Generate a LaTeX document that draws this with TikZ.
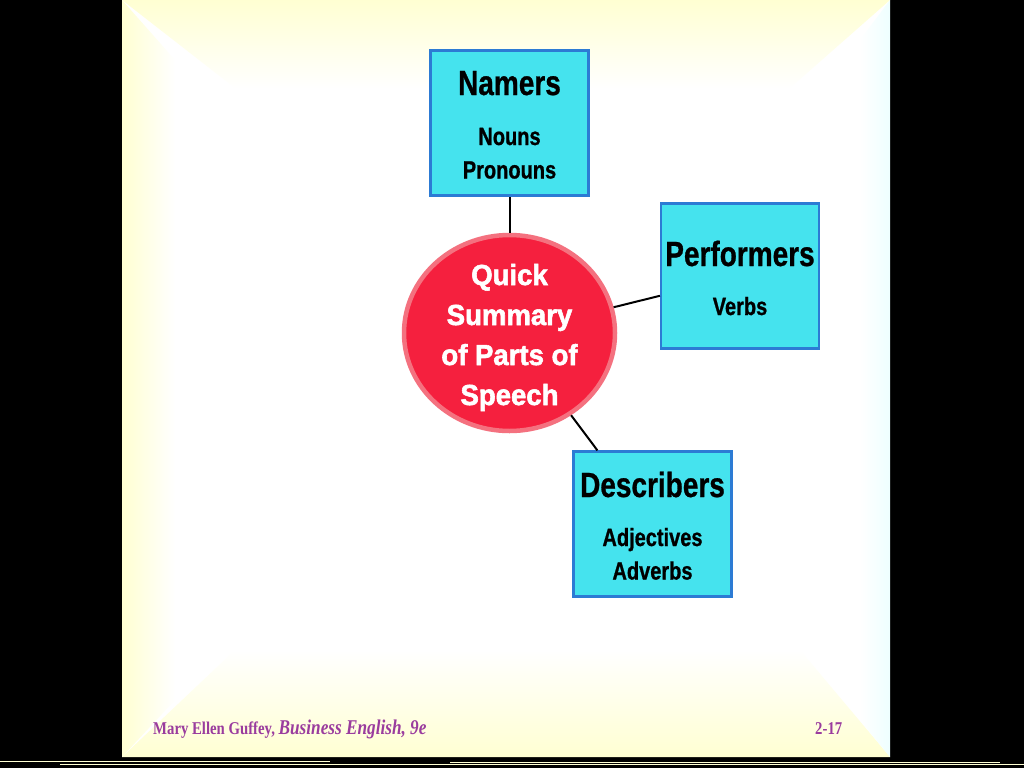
\documentclass[tikz,border=0pt]{standalone}
\usepackage{fontspec}
\setmainfont{Liberation Sans}
\newfontfamily\narrowsans[FakeStretch=0.80, BoldFeatures={FakeBold=0.8}]{Liberation Sans}
\newfontfamily\wideSans[FakeStretch=0.95, BoldFeatures={FakeBold=2}]{Liberation Sans}
\newfontfamily\footserif[FakeStretch=0.82]{Liberation Serif}
\usetikzlibrary{shapes.geometric}
\definecolor{boxfill}{HTML}{45E3EE}
\definecolor{boxline}{HTML}{2C7BD4}
\definecolor{circfill}{HTML}{F5203E}
\definecolor{circline}{HTML}{F4717F}
\definecolor{bevel}{HTML}{FFFFD2}
\definecolor{bevelc}{HTML}{EEFFFF}
\definecolor{footc}{HTML}{9A3C9E}
\tikzset{
  catbox/.style={draw=boxline, line width=2.2pt, fill=boxfill, minimum width=158pt, minimum height=145pt, inner sep=0pt},
  title/.style={anchor=base, inner sep=0pt, font=\narrowsans\bfseries\fontsize{35}{35}\selectfont},
  sub/.style={anchor=base, inner sep=0pt, font=\narrowsans\bfseries\fontsize{25}{25}\selectfont},
  ctext/.style={anchor=base, inner sep=0pt, text=white, font=\wideSans\bfseries\fontsize{29}{29}\selectfont},
  link/.style={draw=black, line width=2pt},
  foot/.style={anchor=base west, inner sep=0pt, text=footc}
}
\begin{document}
\begin{tikzpicture}[x=1pt,y=-1pt]
\useasboundingbox (0,0) rectangle (1024,768);
\fill[black] (0,0) rectangle (1024,768);
% slide
\fill[white] (122,0) rectangle (890,757);
\shade[top color=bevel, bottom color=white] (122,0) -- (890,0) -- (790,88) -- (235,88) -- cycle;
\shade[left color=bevel, right color=white] (122,0) -- (175,60) -- (175,700) -- (122,757) -- cycle;
\shade[bottom color=bevel, top color=white] (122,757) -- (235,650) -- (800,650) -- (890,757) -- cycle;
\shade[right color=bevelc, left color=white] (890,0) -- (860,40) -- (860,720) -- (890,757) -- cycle;
% bottom artifact lines
\draw[bevel, line width=1.5pt] (0,761.5) -- (330,761.5);
\draw[bevel, line width=1.5pt] (60,764.5) -- (1024,764.5);
\draw[bevel, line width=1pt] (450,762) -- (1000,762);
% boxes
\node[catbox] (namers) at (509.5,123) {};
\node[catbox] (perf) at (740,276) {};
\node[catbox] (desc) at (652.5,524) {};
\node[ellipse, draw=circline, line width=4.5pt, fill=circfill, minimum width=211pt, minimum height=196pt, inner sep=0pt] (hub) at (509.5,333) {};
% connectors
\draw[link] (hub) -- (namers);
\draw[link] (hub) -- (perf);
\draw[link] (hub) -- (desc);
% box texts
\node[title] (t1) at (509.5,95) {Namers};
\node[sub] (s11) at (509.5,145) {Nouns};
\node[sub] (s12) at (509.5,178.5) {Pronouns};
\node[title] (t2) at (740,266) {Performers};
\node[sub] (s21) at (740,315) {Verbs};
\node[title] (t3) at (652.5,497) {Describers};
\node[sub] (s31) at (652.5,546) {Adjectives};
\node[sub] (s32) at (652.5,579.5) {Adverbs};
% circle text
\node[ctext] (c1) at (509.5,285) {Quick};
\node[ctext] (c2) at (509.5,325) {Summary};
\node[ctext] (c3) at (509.5,365) {of Parts of};
\node[ctext] (c4) at (509.5,405) {Speech};
% footer
\node[foot] (f1) at (153,734) {\footserif\bfseries\fontsize{18}{18}\selectfont Mary Ellen Guffey, {\fontsize{21}{21}\selectfont\itshape Business English, 9e}};
\node[foot] (f2) at (815,734) {\footserif\bfseries\fontsize{18}{18}\selectfont 2-17};
\end{tikzpicture}
\end{document}
